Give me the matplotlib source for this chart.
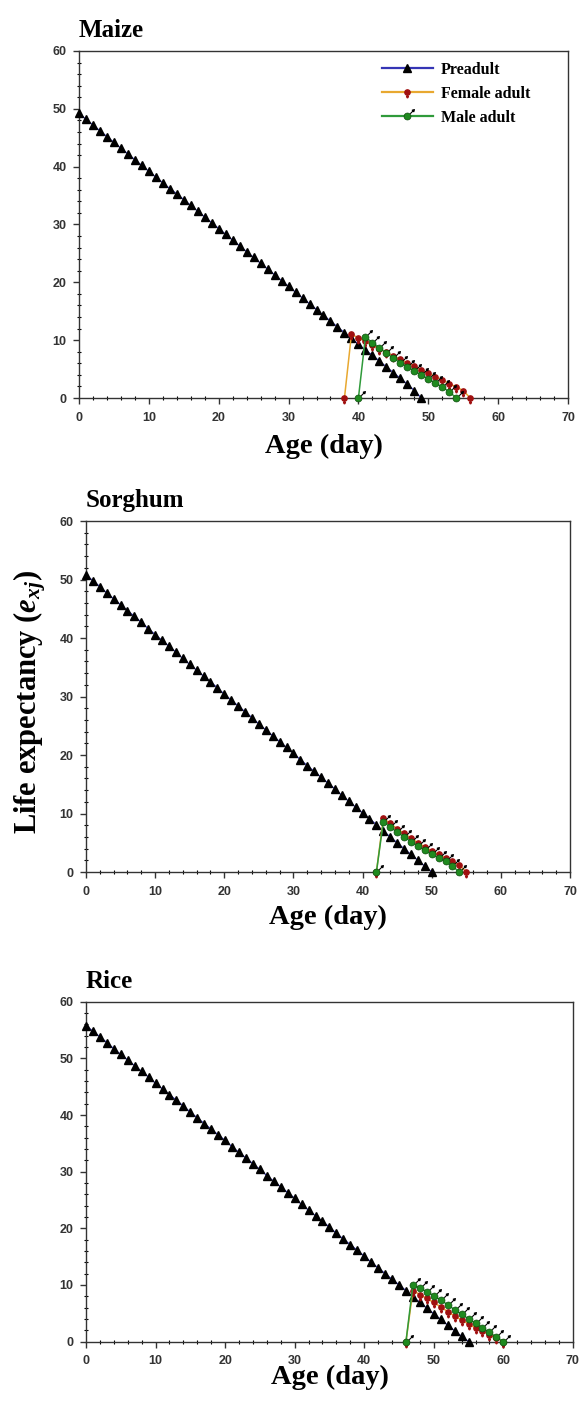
import numpy as np
import matplotlib
matplotlib.use('Agg')
import matplotlib.pyplot as plt
from matplotlib.path import Path
from matplotlib.legend_handler import HandlerTuple

plt.rcParams['mathtext.fontset'] = 'custom'
plt.rcParams['mathtext.rm'] = 'Liberation Serif:bold'
plt.rcParams['mathtext.it'] = 'Liberation Serif:italic:bold'
plt.rcParams['mathtext.bf'] = 'Liberation Serif:bold'
plt.rcParams['mathtext.bfit'] = 'Liberation Serif:italic:bold'

# ---- data ----
# Maize
maize_pre_age = list(range(0, 50))
maize_pre = [49.2, 48.2, 47.2, 46.2, 45.2, 44.2, 43.2, 42.2, 41.2, 40.2,
             39.2, 38.2, 37.2, 36.2, 35.3, 34.3, 33.3, 32.3, 31.3, 30.3,
             29.3, 28.3, 27.3, 26.3, 25.3, 24.3, 23.3, 22.3, 21.3, 20.3,
             19.3, 18.3, 17.3, 16.3, 15.3, 14.3, 13.3, 12.3, 11.3, 10.3,
             9.3, 8.3, 7.4, 6.4, 5.4, 4.4, 3.4, 2.4, 1.3, 0.0]
maize_fem_age = list(range(38, 57))
maize_fem = [0.0, 11.0, 10.4, 9.8, 9.1, 8.5, 7.9, 7.3, 6.7, 6.1,
             5.5, 4.9, 4.3, 3.7, 3.1, 2.5, 1.9, 1.3, 0.0]
maize_male_age = list(range(40, 55))
maize_male = [0.0, 10.5, 9.6, 8.7, 7.8, 6.9, 6.1, 5.4, 4.7, 4.0,
              3.3, 2.6, 1.9, 1.1, 0.0]

# Sorghum
sorg_pre_age = list(range(0, 51))
sorg_pre = [50.8, 49.8, 48.8, 47.7, 46.7, 45.7, 44.7, 43.7, 42.7, 41.6,
            40.6, 39.6, 38.6, 37.6, 36.5, 35.5, 34.5, 33.5, 32.5, 31.5,
            30.4, 29.4, 28.4, 27.4, 26.4, 25.3, 24.3, 23.3, 22.3, 21.3,
            20.3, 19.2, 18.2, 17.2, 16.2, 15.2, 14.2, 13.1, 12.1, 11.1,
            10.1, 9.1, 8.1, 7.0, 6.0, 5.0, 4.0, 3.0, 2.0, 1.0, 0.0]
sorg_fem_age = list(range(42, 56))
sorg_fem = [0.0, 9.2, 8.3, 7.4, 6.6, 5.8, 5.0, 4.3, 3.6, 3.0,
            2.4, 1.8, 1.2, 0.0]
sorg_male_age = list(range(42, 55))
sorg_male = [0.0, 8.6, 7.7, 6.8, 6.0, 5.2, 4.4, 3.7, 3.0, 2.4,
             1.8, 1.0, 0.0]

# Rice
rice_pre_age = list(range(0, 56))
rice_pre = [55.8, 54.8, 53.8, 52.8, 51.7, 50.7, 49.7, 48.7, 47.7, 46.7,
            45.6, 44.6, 43.6, 42.6, 41.6, 40.5, 39.5, 38.5, 37.5, 36.5,
            35.5, 34.4, 33.4, 32.4, 31.4, 30.4, 29.3, 28.3, 27.3, 26.3,
            25.3, 24.2, 23.2, 22.2, 21.2, 20.2, 19.1, 18.1, 17.1, 16.1,
            15.1, 14.0, 13.0, 12.0, 11.0, 10.0, 9.0, 7.9, 6.9, 5.9,
            4.9, 3.9, 2.9, 1.9, 0.9, 0.0]
rice_fem_age = list(range(46, 61))
rice_fem = [0.0, 9.0, 8.3, 7.6, 6.9, 6.1, 5.3, 4.5, 3.8, 3.1,
            2.4, 1.8, 1.2, 0.6, 0.0]
rice_male_age = list(range(46, 61))
rice_male = [0.0, 10.0, 9.4, 8.8, 8.1, 7.3, 6.5, 5.6, 4.8, 4.0,
             3.2, 2.4, 1.6, 0.8, 0.0]

x_ticks = [0, 10, 20, 30, 40, 50, 60, 70]
y_ticks = [0, 10, 20, 30, 40, 50, 60]
labels = ['Preadult', 'Female adult', 'Male adult']

# ---- custom markers (female / male symbols) ----
fem_marker = Path.make_compound_path(
    Path.circle((0, 0), 0.38),
    Path([(0, -0.38), (0, -0.85)], [Path.MOVETO, Path.LINETO]),
    Path([(-0.22, -0.62), (0.22, -0.62)], [Path.MOVETO, Path.LINETO]),
)
male_arrow = Path.make_compound_path(
    Path([(0.45, 0.45), (0.95, 0.95)], [Path.MOVETO, Path.LINETO]),
    Path([(1.15, 1.15), (0.78, 1.05), (1.05, 0.78), (1.15, 1.15)],
         [Path.MOVETO, Path.LINETO, Path.LINETO, Path.CLOSEPOLY]),
)

c_pre = '#3535b5'
c_fem = '#e8a830'
c_male = '#2f9a3a'
c_red = '#a01010'
c_green = '#1f8a1f'

serif = 'Liberation Serif'
sans = 'Liberation Sans'

fig = plt.figure(figsize=(5.79, 14.04), dpi=100)

panels = [
    ('Maize', [0.1364, 0.7165, 0.8446, 0.2472], 7,
     maize_pre_age, maize_pre, maize_fem_age, maize_fem, maize_male_age, maize_male),
    ('Sorghum', [0.1485, 0.3789, 0.836, 0.250], 5,
     sorg_pre_age, sorg_pre, sorg_fem_age, sorg_fem, sorg_male_age, sorg_male),
    ('Rice', [0.1485, 0.0445, 0.841, 0.2420], -2,
     rice_pre_age, rice_pre, rice_fem_age, rice_fem, rice_male_age, rice_male),
]

for i, (name, pos, lpad, pa, pv, fa, fv, ma, mv) in enumerate(panels):
    ax = fig.add_axes(pos)
    h_pre, = ax.plot(pa, pv, color=c_pre, lw=0.9, marker='^', ms=5.5,
                     mfc='black', mec='black', clip_on=False, zorder=3)
    h_fem, = ax.plot(fa, fv, color=c_fem, lw=1.1, marker=fem_marker, ms=8.5,
                     mfc=c_red, mec=c_red, mew=1.0, clip_on=False, zorder=4)
    h_male, = ax.plot(ma, mv, color=c_male, lw=1.1, marker='o', ms=5,
                      mfc=c_green, mec='#0d4d0d', mew=0.5, clip_on=False, zorder=5)
    h_arrow, = ax.plot(ma, mv, ls='none', marker=male_arrow, ms=10,
                       mfc='black', mec='black', mew=0.8, clip_on=False, zorder=5)

    ax.set_xlim(0, 70)
    ax.set_ylim(0, 60)
    ax.set_xticks(x_ticks)
    ax.set_yticks(y_ticks)
    ax.set_xticks(np.arange(0, 71, 2), minor=True)
    ax.set_yticks(np.arange(0, 61, 2), minor=True)
    ax.tick_params(which='major', length=4, width=1, direction='out',
                   labelsize=9, pad=5, colors='#333333')
    ax.tick_params(axis='x', which='major', pad=6)
    ax.tick_params(which='minor', length=2.5, width=0.8, direction='inout')
    for lab in ax.get_xticklabels() + ax.get_yticklabels():
        lab.set_fontfamily(sans)
        lab.set_fontweight('bold')
    for sp in ax.spines.values():
        sp.set_linewidth(1.0)
        sp.set_color('#333333')

    ax.set_title(name, loc='left', pad=10, fontsize=18, fontweight='bold',
                 family=serif)
    ax.set_xlabel('Age (day)', fontsize=20.5, fontweight='bold', family=serif,
                  labelpad=lpad)

    if i == 0:
        leg = ax.legend([h_pre, (h_fem,), (h_male, h_arrow)], labels,
                        handler_map={tuple: HandlerTuple(ndivide=1, pad=0)},
                        loc='upper left', bbox_to_anchor=(0.59, 1.01), frameon=False,
                        handlelength=3.2, handletextpad=0.5, labelspacing=0.5,
                        prop={'family': serif, 'weight': 'bold', 'size': 11.5})
        for ln in leg.get_lines():
            if ln.get_linestyle() != 'None':
                ln.set_linewidth(1.6)

fig.text(0.052, 0.5, r'Life expectancy ($\mathbfit{e}_{\mathbfit{xj}}$)', rotation=90,
         va='center', ha='center', fontsize=22, fontweight='bold', family=serif)

fig.savefig('out.png', dpi=100)
